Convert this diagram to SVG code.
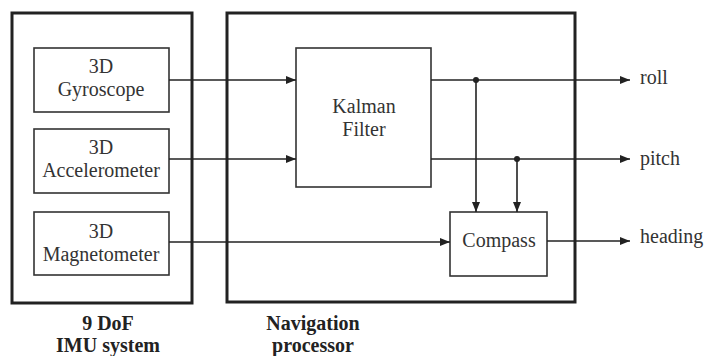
<svg xmlns="http://www.w3.org/2000/svg" width="705" height="356" viewBox="0 0 705 356">
<defs>
<marker id="ah" markerWidth="10" markerHeight="8" refX="10" refY="4" orient="auto" markerUnits="userSpaceOnUse">
<path d="M0,0 L10,4 L0,8 Z" fill="#222"/>
</marker>
<style>
.outer{fill:none;stroke:#222;stroke-width:3}
.box{fill:#fff;stroke:#333;stroke-width:1.6}
text{font-family:'Liberation Serif','DejaVu Serif',serif;font-size:20px}
.t{fill:#333;text-anchor:middle}
.lb{fill:#222;font-weight:bold;text-anchor:middle}
.ol{fill:#333}
.c{fill:none;stroke:#222;stroke-width:1.6}
</style>
</defs>
<rect width="705" height="356" fill="#fff"/>
<g id="imu">
<rect class="outer" x="12" y="13" width="180" height="290"/>
<text class="lb" x="108" y="330">9 DoF</text>
<text class="lb" x="108" y="352">IMU system</text>
</g>
<g id="nav">
<rect class="outer" x="227" y="13" width="348" height="289"/>
<text class="lb" x="313" y="330">Navigation</text>
<text class="lb" x="313" y="352">processor</text>
</g>
<g id="gyro">
<rect class="box" x="34" y="48" width="135" height="64"/>
<text class="t" x="101" y="73">3D</text>
<text class="t" x="101" y="96">Gyroscope</text>
</g>
<g id="accel">
<rect class="box" x="34" y="129" width="135" height="64"/>
<text class="t" x="101" y="154">3D</text>
<text class="t" x="101" y="177">Accelerometer</text>
</g>
<g id="mag">
<rect class="box" x="34" y="212" width="135" height="63"/>
<text class="t" x="101" y="238">3D</text>
<text class="t" x="101" y="261">Magnetometer</text>
</g>
<g id="kalman">
<rect class="box" x="296" y="48" width="135" height="139"/>
<text class="t" x="364" y="113">Kalman</text>
<text class="t" x="364" y="136">Filter</text>
</g>
<g id="compass">
<rect class="box" x="450" y="212" width="97" height="64"/>
<text class="t" x="499" y="247">Compass</text>
</g>
<g id="connectors">
<line class="c" x1="169" y1="80" x2="296" y2="80" marker-end="url(#ah)"/>
<line class="c" x1="169" y1="159" x2="296" y2="159" marker-end="url(#ah)"/>
<line class="c" x1="169" y1="242" x2="450" y2="242" marker-end="url(#ah)"/>
<line class="c" x1="431" y1="80" x2="630" y2="80" marker-end="url(#ah)"/>
<line class="c" x1="431" y1="159" x2="630" y2="159" marker-end="url(#ah)"/>
<line class="c" x1="547" y1="241" x2="630" y2="241" marker-end="url(#ah)"/>
<line class="c" x1="476" y1="80" x2="476" y2="212" marker-end="url(#ah)"/>
<line class="c" x1="517" y1="159" x2="517" y2="212" marker-end="url(#ah)"/>
<circle cx="476" cy="80" r="3" fill="#222"/>
<circle cx="517" cy="159" r="3" fill="#222"/>
<text class="ol" x="640" y="84">roll</text>
<text class="ol" x="640" y="165">pitch</text>
<text class="ol" x="640" y="243">heading</text>
</g>
</svg>
